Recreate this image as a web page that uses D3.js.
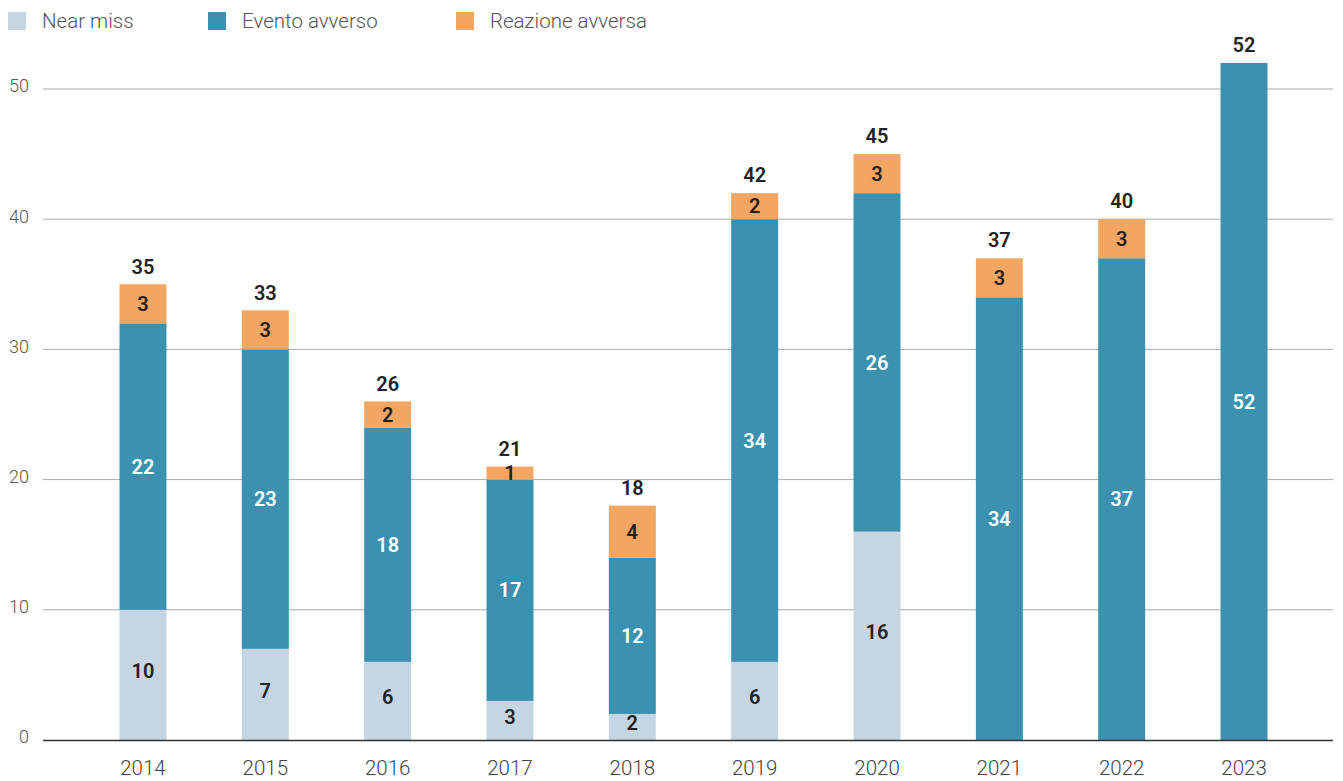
<!DOCTYPE html>
<html><head><meta charset="utf-8">
<script src="https://cdn.jsdelivr.net/npm/d3@7"></script>
<style>body{margin:0;background:#fff;} svg{display:block;font-family:Roboto, "Open Sans", sans-serif;}</style>
</head><body>
<svg id="c" width="1343" height="781"></svg>
<script>
const years = ["2014","2015","2016","2017","2018","2019","2020","2021","2022","2023"];
const nearMiss = [10,7,6,3,2,6,16,0,0,0];
const eventoAvverso = [22,23,18,17,12,34,26,34,37,52];
const reazioneAvversa = [3,3,2,1,4,2,3,3,3,0];
const yTicks = [0,10,20,30,40,50];
const seriesNames = ["Near miss","Evento avverso","Reazione avversa"];
const colors = ["#c5d5e2","#3a91b0","#f2a662"];
const labelColors = ["#222","#fff","#222"];

const svg = d3.select("#c");
const x = d3.scaleBand().domain(years).range([81.8,1305.2]).paddingInner(0.616).paddingOuter(0.308);
const y = d3.scaleLinear().domain([0,50]).range([740,89]);

// gridlines
svg.append("g").selectAll("line").data(yTicks.filter(d=>d>0)).join("line")
  .attr("x1",43).attr("x2",1333).attr("y1",d=>y(d)).attr("y2",d=>y(d))
  .attr("stroke","#a8a8a8").attr("stroke-width",1);
svg.append("g").selectAll("text").data(yTicks).join("text")
  .attr("x",29).attr("y",d=>y(d)-3).attr("dy","0.35em").attr("text-anchor","end")
  .attr("font-size",18).attr("font-weight",300).attr("fill","#555").text(d=>d);

const stackData = years.map((yr,i)=>({year:yr, a:nearMiss[i], b:eventoAvverso[i], c:reazioneAvversa[i]}));
const stack = d3.stack().keys(["a","b","c"])(stackData);

stack.forEach((layer,k)=>{
  const g = svg.append("g");
  g.selectAll("rect").data(layer.filter(d=>d[1]-d[0]>0)).join("rect")
    .attr("x",d=>x(d.data.year)).attr("width",x.bandwidth())
    .attr("y",d=>y(d[1])).attr("height",d=>y(d[0])-y(d[1]))
    .attr("fill",colors[k]);
  g.selectAll("text").data(layer.filter(d=>d[1]-d[0]>0)).join("text")
    .attr("x",d=>x(d.data.year)+x.bandwidth()/2).attr("y",d=>(y(d[0])+y(d[1]))/2 - (k===0?4:0))
    .attr("dy","0.36em").attr("text-anchor","middle")
    .attr("font-size",20).attr("font-weight",600).attr("fill",labelColors[k])
    .text(d=>d[1]-d[0]);
});

// totals
svg.append("g").selectAll("text").data(stackData).join("text")
  .attr("x",d=>x(d.year)+x.bandwidth()/2).attr("y",d=>y(d.a+d.b+d.c)-18)
  .attr("dy","0.36em").attr("text-anchor","middle")
  .attr("font-size",20).attr("font-weight",600).attr("fill","#222")
  .text(d=>d.a+d.b+d.c);

// baseline
svg.append("line").attr("x1",43).attr("x2",1333).attr("y1",y(0)+0.5).attr("y2",y(0)+0.5)
  .attr("stroke","#333").attr("stroke-width",1.5);

// x labels
svg.append("g").selectAll("text").data(years).join("text")
  .attr("x",d=>x(d)+x.bandwidth()/2).attr("y",768).attr("dy","0.35em")
  .attr("text-anchor","middle").attr("font-size",20.5).attr("font-weight",300).attr("fill","#444").text(d=>d);

// legend
const legX = [8,208,456];
const leg = svg.append("g").selectAll("g").data(seriesNames).join("g")
  .attr("transform",(d,i)=>`translate(${legX[i]},12)`);
leg.append("rect").attr("width",18).attr("height",18).attr("fill",(d,i)=>colors[i]);
leg.append("text").attr("x",34).attr("y",9).attr("dy","0.36em")
  .attr("font-size",20.5).attr("font-weight",300).attr("fill","#555").text(d=>d);
</script>
</body></html>
